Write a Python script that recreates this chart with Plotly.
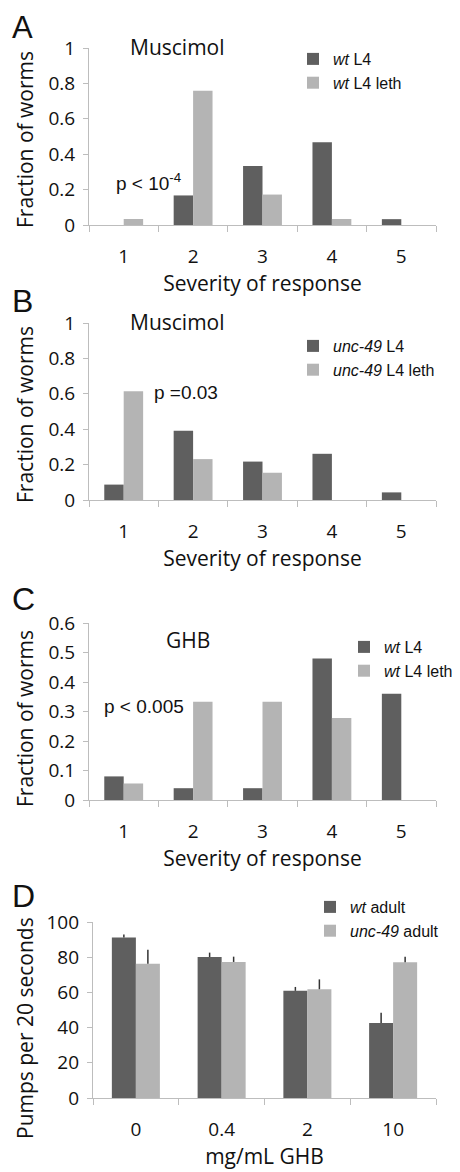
import plotly.graph_objects as go

# ---------------- data ----------------
severity = ["1", "2", "3", "4", "5"]

a_wt_l4 = [0.0, 0.167, 0.333, 0.467, 0.033]
a_wt_l4_leth = [0.034, 0.759, 0.172, 0.034, 0.0]

b_unc_l4 = [0.087, 0.391, 0.217, 0.261, 0.043]
b_unc_l4_leth = [0.615, 0.231, 0.154, 0.0, 0.0]

c_wt_l4 = [0.08, 0.04, 0.04, 0.48, 0.36]
c_wt_l4_leth = [0.056, 0.333, 0.333, 0.278, 0.0]

ghb_doses = ["0", "0.4", "2", "10"]
d_wt_adult = [91.2, 80.1, 60.9, 42.6]
d_wt_adult_err = [1.7, 2.5, 2.2, 5.9]
d_unc_adult = [76.3, 77.3, 61.8, 77.2]
d_unc_adult_err = [7.9, 3.0, 5.6, 3.0]

DARK = "#5f5f5f"
LIGHT = "#b4b4b4"
AXIS = "#bdbdbd"
BODY = "Open Sans"
TICKFONT = dict(family=BODY, size=19, color="#111")
TITLEFONT = dict(family=BODY, size=21, color="#111")
SANS = "Liberation Sans"

# the page body has an 8px margin; the figure is sized to fill the rest
OFF = 8.0
W = 460.0 - OFF
H = 1172.0 - OFF


def px(x):
    return (x - OFF) / W


def py(y):
    return 1 - (y - OFF) / H


def ydom(top_px, bottom_px):
    return [py(bottom_px), py(top_px)]


fig = go.Figure()

panels = [
    dict(x=severity, s1=a_wt_l4, s2=a_wt_l4_leth, n1="<i>wt</i> L4", n2="<i>wt</i> L4 leth"),
    dict(x=severity, s1=b_unc_l4, s2=b_unc_l4_leth, n1="<i>unc-49</i> L4", n2="<i>unc-49</i> L4 leth"),
    dict(x=severity, s1=c_wt_l4, s2=c_wt_l4_leth, n1="<i>wt</i> L4", n2="<i>wt</i> L4 leth"),
]
leg_names = ["legend", "legend2", "legend3", "legend4"]

for i, p in enumerate(panels):
    ax = "" if i == 0 else str(i + 1)
    fig.add_trace(go.Bar(x=p["x"], y=p["s1"], name=p["n1"], marker_color=DARK,
                         marker_line_width=0, xaxis="x" + ax, yaxis="y" + ax,
                         legend=leg_names[i]))
    fig.add_trace(go.Bar(x=p["x"], y=p["s2"], name=p["n2"], marker_color=LIGHT,
                         marker_line_width=0, xaxis="x" + ax, yaxis="y" + ax,
                         legend=leg_names[i]))

fig.add_trace(go.Bar(x=ghb_doses, y=d_wt_adult, name="<i>wt</i> adult", marker_color=DARK,
                     marker_line_width=0, xaxis="x4", yaxis="y4", legend="legend4",
                     error_y=dict(type="data", array=d_wt_adult_err,
                                  arrayminus=[0] * len(d_wt_adult_err),
                                  color="#333", thickness=1.5, width=0)))
fig.add_trace(go.Bar(x=ghb_doses, y=d_unc_adult, name="<i>unc-49</i> adult", marker_color=LIGHT,
                     marker_line_width=0, xaxis="x4", yaxis="y4", legend="legend4",
                     error_y=dict(type="data", array=d_unc_adult_err,
                                  arrayminus=[0] * len(d_unc_adult_err),
                                  color="#333", thickness=1.5, width=0)))

xcommon = dict(type="category", showline=True, linecolor=AXIS, linewidth=1.2,
               ticks="outside", tickson="boundaries", ticklen=6, tickcolor=AXIS,
               tickfont=TICKFONT, showgrid=False, zeroline=False,
               ticklabelstandoff=14, fixedrange=True, automargin=False)
ycommon = dict(showline=True, linecolor=AXIS, linewidth=1.2, ticks="outside",
               ticklen=5, tickcolor=AXIS, tickfont=TICKFONT, showgrid=False,
               zeroline=False, ticklabelstandoff=4, fixedrange=True, automargin=False)

layout_axes = {}
doms = [ydom(48, 225), ydom(323, 500), ydom(623, 800), ydom(922, 1098)]
xdom_abc = [px(89), px(436)]
xdom_d = [px(93), px(436)]
yranges = [[0, 1], [0, 1], [0, 0.6], [0, 100]]
ydticks = [0.2, 0.2, 0.1, 20]
for i in range(4):
    ax = "" if i == 0 else str(i + 1)
    xa = dict(xcommon)
    xa["domain"] = xdom_d if i == 3 else xdom_abc
    xa["anchor"] = "y" + ax
    xa["range"] = [-0.5, 3.5] if i == 3 else [-0.5, 4.5]
    if i == 3:
        xa["title"] = dict(text="mg/mL GHB", font=TITLEFONT, standoff=6)
    else:
        xa["title"] = dict(text="Severity of response", font=TITLEFONT, standoff=2)
    ya = dict(ycommon)
    ya["domain"] = doms[i]
    ya["anchor"] = "x" + ax
    ya["range"] = yranges[i]
    ya["dtick"] = ydticks[i]
    ya["tick0"] = 0
    layout_axes["xaxis" + ax] = xa
    layout_axes["yaxis" + ax] = ya

legend_font = dict(family=SANS, size=16, color="#111")


def leg(xpx, ypx):
    return dict(x=px(xpx), y=py(ypx), xref="container", yref="container",
                xanchor="left", yanchor="top",
                font=legend_font, bgcolor="rgba(0,0,0,0)", tracegroupgap=0,
                traceorder="normal", itemclick=False, itemdoubleclick=False)


def ann(text, xpx, ypx, size, family=SANS, xanchor="left", yanchor="middle", angle=0):
    return dict(text=text, x=px(xpx), y=py(ypx), xref="paper", yref="paper",
                xanchor=xanchor, yanchor=yanchor, showarrow=False, textangle=angle,
                borderpad=0, font=dict(family=family, size=size, color="#111"))


annotations = [
    ann("A", 11, 8.5, 31, yanchor="top"),
    ann("B", 11, 301, 32),
    ann("C", 11, 599, 32),
    ann("D", 11, 896, 32),
    ann("Fraction of worms", 25, 140, 21, family=BODY, xanchor="center", angle=-90),
    ann("Fraction of worms", 25, 415, 21, family=BODY, xanchor="center", angle=-90),
    ann("Fraction of worms", 25, 719, 21, family=BODY, xanchor="center", angle=-90),
    ann("Pumps per 20 seconds", 25, 1028, 21, family=BODY, xanchor="center", angle=-90),
    ann("Muscimol", 129, 47, 21, family=BODY),
    ann("Muscimol", 129, 322, 21, family=BODY),
    ann("GHB", 165, 640, 21, family=BODY),
    ann("p &lt; 10<sup>-4</sup>", 115, 182, 19),
    ann("p =0.03", 153, 393, 19),
    ann("p &lt; 0.005", 103, 706, 19),
]

fig.update_layout(
    width=int(W), height=int(H),
    margin=dict(l=0, r=0, t=0, b=0, autoexpand=False),
    paper_bgcolor="white", plot_bgcolor="white",
    barmode="group", bargap=0.44, bargroupgap=0,
    showlegend=True,
    legend=leg(293, 42),
    legend2=leg(293, 329),
    legend3=leg(344, 630),
    legend4=leg(310, 890),
    annotations=annotations,
    **layout_axes,
)

fig.write_html("out.html")
